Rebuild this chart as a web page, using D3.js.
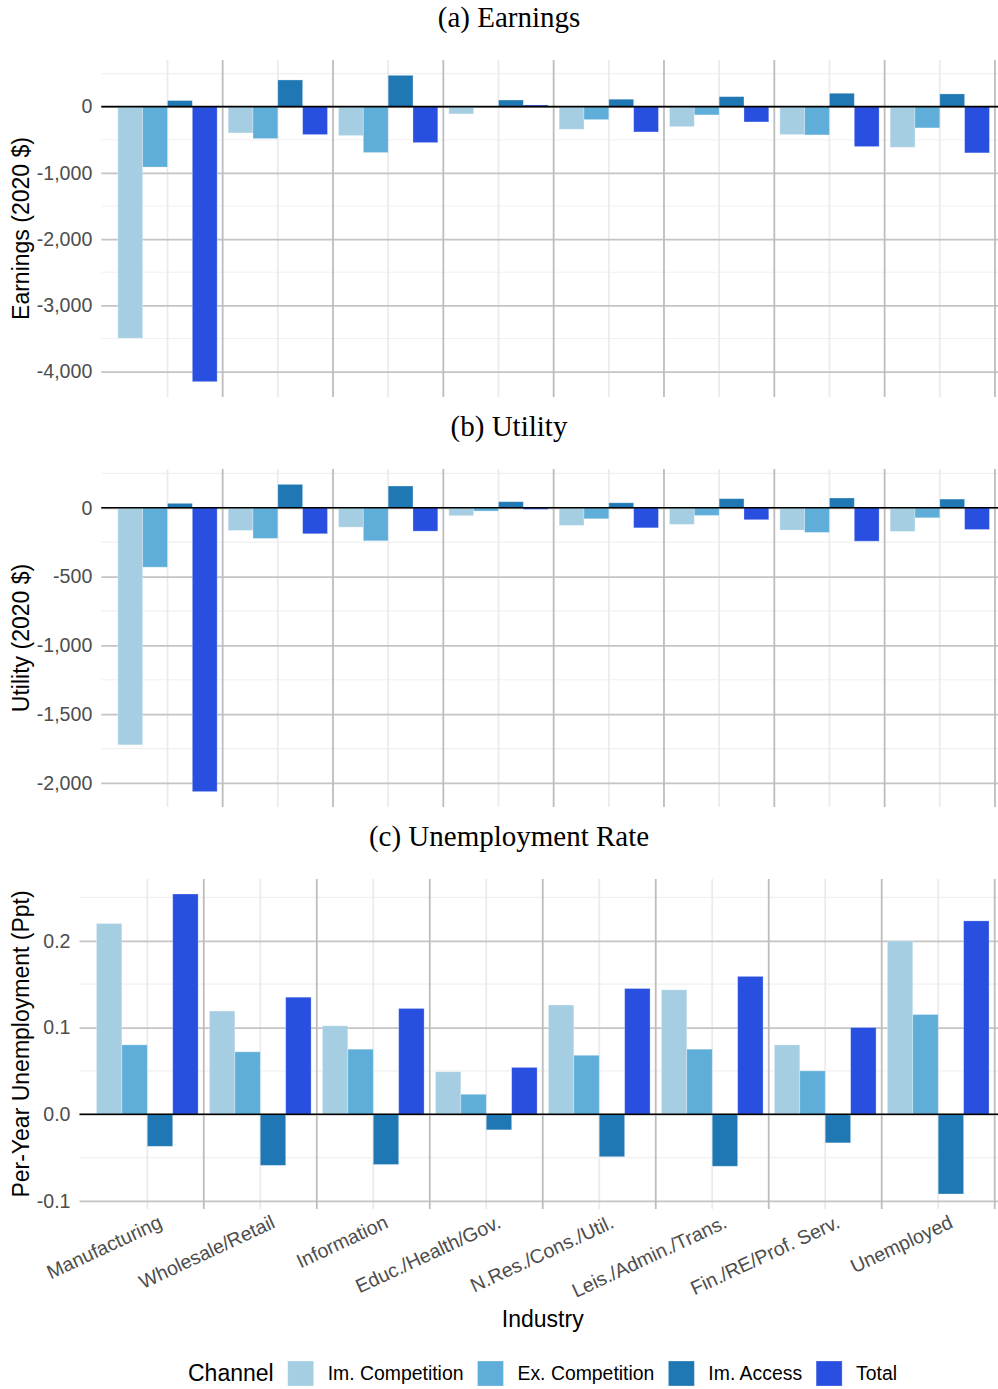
<!DOCTYPE html>
<html>
<head>
<meta charset="utf-8">
<script src="https://cdn.jsdelivr.net/npm/d3@7"></script>
<style>
  html, body { margin: 0; padding: 0; background: #ffffff; }
  svg { display: block; }
</style>
</head>
<body>
<svg id="chart" width="998" height="1389"></svg>
<script>
// ---------------- DATA ----------------
const categories = ["Manufacturing", "Wholesale/Retail", "Information", "Educ./Health/Gov.",
  "N.Res./Cons./Util.", "Leis./Admin./Trans.", "Fin./RE/Prof. Serv.", "Unemployed"];
const channels = ["Im. Competition", "Ex. Competition", "Im. Access", "Total"];
const channelColors = ["#a6cee3", "#5eaed9", "#1f78b4", "#284fe0"];

// (a) Earnings (2020 $)
const earnImComp   = [-3495, -397, -437, -110, -341, -302, -422, -613];
const earnExComp   = [-912, -482, -693, -8, -196, -125, -427, -321];
const earnImAccess = [92, 403, 473, 100, 112, 151, 202, 192];
const earnTotal    = [-4152, -422, -543, 25, -382, -231, -603, -698];

// (b) Utility (2020 $)
const utilImComp   = [-1723, -165, -141, -58, -128, -121, -162, -172];
const utilExComp   = [-432, -223, -240, -24, -80, -56, -179, -73];
const utilImAccess = [32, 170, 158, 44, 36, 66, 71, 63];
const utilTotal    = [-2063, -189, -170, -12, -146, -87, -243, -158];

// (c) Per-year unemployment (ppt)
const unempImComp   = [0.220, 0.119, 0.102, 0.049, 0.126, 0.1435, 0.080, 0.200];
const unempExComp   = [0.080, 0.072, 0.075, 0.023, 0.068, 0.075, 0.050, 0.115];
const unempImAccess = [-0.037, -0.059, -0.058, -0.018, -0.049, -0.060, -0.033, -0.092];
const unempTotal    = [0.254, 0.135, 0.122, 0.054, 0.145, 0.159, 0.100, 0.223];

// tick values
const earnTicks  = [-4000, -3000, -2000, -1000, 0];
const utilTicks  = [-2000, -1500, -1000, -500, 0];
const unempTicks = [-0.1, 0.0, 0.1, 0.2];

const panelTitles = ["(a) Earnings", "(b) Utility", "(c) Unemployment Rate"];
const yTitles = ["Earnings (2020 $)", "Utility (2020 $)", "Per-Year Unemployment (Ppt)"];
const xTitle = "Industry";
const legendTitle = "Channel";

// ---------------- LAYOUT ----------------
const svg = d3.select("#chart");
const sans = "'Liberation Sans', Arial, Helvetica, sans-serif";
const serif = "'Liberation Serif', 'Times New Roman', serif";
const locale = d3.formatLocale({decimal: ".", thousands: ",", grouping: [3], currency: ["$", ""], minus: "-"});

const panels = [
  { title: panelTitles[0], ytitle: yTitles[0], series: [earnImComp, earnExComp, earnImAccess, earnTotal],
    ticks: earnTicks, fmt: locale.format(","), left: 101.3, top: 60, bottom: 397, titleY: 27, xlabels: false },
  { title: panelTitles[1], ytitle: yTitles[1], series: [utilImComp, utilExComp, utilImAccess, utilTotal],
    ticks: utilTicks, fmt: locale.format(","), left: 101.3, top: 469, bottom: 807, titleY: 436, xlabels: false },
  { title: panelTitles[2], ytitle: yTitles[2], series: [unempImComp, unempExComp, unempImAccess, unempTotal],
    ticks: unempTicks, fmt: locale.format(".1f"), left: 79.5, top: 879, bottom: 1209, titleY: 846, xlabels: true }
];
const rightEdge = 1006;
const titleCX = 509;

panels.forEach(p => {
  const all = p.series.flat().concat([0]);
  const lo = d3.min(all), hi = d3.max(all);
  const pad = (hi - lo) * 0.05;
  const y = d3.scaleLinear().domain([lo - pad, hi + pad]).range([p.bottom, p.top]);
  const x = d3.scaleLinear().domain([0.4, categories.length + 0.6]).range([p.left, rightEdge]);
  const W = rightEdge - p.left;

  const g = svg.append("g");

  // title
  svg.append("text").attr("x", titleCX).attr("y", p.titleY)
    .attr("text-anchor", "middle").style("font-family", serif).style("font-size", "29px")
    .attr("fill", "#000").text(p.title);

  // minor horizontal grid
  const step = p.ticks[1] - p.ticks[0];
  const dom = y.domain();
  const minors = [];
  for (let v = p.ticks[0] - step / 2; v <= dom[1] + 1e-9; v += step) {
    if (v >= dom[0] && v <= dom[1]) minors.push(v);
  }
  g.selectAll(".minor").data(minors).join("line")
    .attr("x1", p.left).attr("x2", rightEdge)
    .attr("y1", d => y(d)).attr("y2", d => y(d))
    .attr("stroke", "#f0f0f0").attr("stroke-width", 1.2);

  // vertical lines at category centers (light)
  const centers = d3.range(1, categories.length + 1);
  g.selectAll(".vc").data(centers).join("line")
    .attr("x1", d => x(d)).attr("x2", d => x(d))
    .attr("y1", p.top).attr("y2", p.bottom)
    .attr("stroke", "#ebebeb").attr("stroke-width", 1.8);

  // major horizontal grid + y axis labels
  const yAxis = d3.axisLeft(y).tickValues(p.ticks).tickFormat(p.fmt)
    .tickSizeInner(-W).tickSizeOuter(0).tickPadding(9);
  const ya = g.append("g").attr("transform", `translate(${p.left},0)`).call(yAxis);
  ya.select(".domain").remove();
  ya.selectAll(".tick line").attr("stroke", "#c4c4c4").attr("stroke-width", 1.8);
  ya.selectAll(".tick text").attr("fill", "#4d4d4d")
    .style("font-family", sans).style("font-size", "19.6px");

  // group boundary lines (darker)
  const bounds = d3.range(1.5, categories.length + 0.6, 1);
  g.selectAll(".vb").data(bounds).join("line")
    .attr("x1", d => x(d)).attr("x2", d => x(d))
    .attr("y1", p.top).attr("y2", p.bottom)
    .attr("stroke", "#bdbdbd").attr("stroke-width", 1.8);

  // bars
  const bw = 0.9 / channels.length;
  p.series.forEach((vals, j) => {
    g.selectAll(".bar" + j).data(vals).join("rect")
      .attr("x", (d, i) => x(i + 1 - 0.45 + bw * j))
      .attr("width", (d, i) => x(i + 1 - 0.45 + bw * (j + 1)) - x(i + 1 - 0.45 + bw * j))
      .attr("y", d => Math.min(y(d), y(0)))
      .attr("height", d => Math.abs(y(d) - y(0)))
      .attr("fill", channelColors[j])
      .attr("stroke", "#ffffff").attr("stroke-opacity", 0.35).attr("stroke-width", 0.8);
  });

  // zero line
  g.append("line").attr("x1", p.left).attr("x2", rightEdge)
    .attr("y1", y(0)).attr("y2", y(0)).attr("stroke", "#000").attr("stroke-width", 1.6);

  // y title
  const cy = (p.top + p.bottom) / 2;
  svg.append("text").attr("transform", `translate(29,${cy}) rotate(-90)`)
    .attr("text-anchor", "middle").style("font-family", sans).style("font-size", "23px")
    .attr("fill", "#000").text(p.ytitle);

  // x labels
  if (p.xlabels) {
    const xa = svg.append("g");
    xa.selectAll("text").data(categories).join("text")
      .attr("transform", (d, i) => `translate(${x(i + 1) + 16},1227) rotate(-25)`)
      .attr("text-anchor", "end").style("font-family", sans).style("font-size", "19.6px")
      .attr("fill", "#4d4d4d").text(d => d);
    svg.append("text").attr("x", (p.left + rightEdge) / 2).attr("y", 1327)
      .attr("text-anchor", "middle").style("font-family", sans).style("font-size", "23px")
      .attr("fill", "#000").text(xTitle);
  }
});

// ---------------- LEGEND ----------------
const lg = svg.append("g");
const lt = lg.append("text").attr("x", 188).attr("y", 1381)
  .style("font-family", sans).style("font-size", "23px").attr("fill", "#000").text(legendTitle);
let cx = 188 + lt.node().getComputedTextLength() + 14;
channels.forEach((c, j) => {
  lg.append("rect").attr("x", cx).attr("y", 1361).attr("width", 26).attr("height", 25)
    .attr("fill", channelColors[j]).attr("stroke", "#ffffff").attr("stroke-opacity", 0.35).attr("stroke-width", 0.8);
  const t = lg.append("text").attr("x", cx + 40).attr("y", 1380)
    .style("font-family", sans).style("font-size", "19.4px").attr("fill", "#000").text(c);
  cx = cx + 40 + t.node().getComputedTextLength() + 14;
});
</script>
</body>
</html>
